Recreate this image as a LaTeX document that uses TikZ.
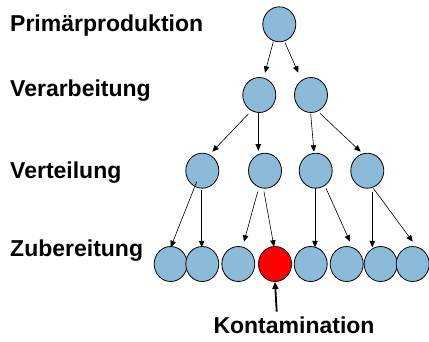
\documentclass[tikz,border=0pt]{standalone}
\usepackage{fontspec}
\setmainfont{Liberation Sans}
\usetikzlibrary{shapes.geometric,calc,arrows.meta}
\definecolor{cblue}{RGB}{139,187,217}
\begin{document}
\begin{tikzpicture}[x=1pt,y=-1pt,
  ball/.style={ellipse,draw=black,line width=0.8pt,fill=cblue,minimum width=33pt,minimum height=35pt,inner sep=0pt},
  redball/.style={ball,fill=red},
  arr/.style={-{Triangle[length=6.5pt,width=5.5pt]},line width=0.6pt},
  bigarr/.style={-{Triangle[length=7pt,width=6pt]},line width=1.8pt},
  lab/.style={anchor=base west,inner sep=0pt,font=\fontsize{23}{26}\selectfont\bfseries}]
\useasboundingbox (0,0) rectangle (429,341);
% labels
\node[lab] (lp) at (10,31.7) {Primärproduktion};
\node[lab] (lv) at (10,96.7) {Verarbeitung};
\node[lab] (lt) at (10,178) {Verteilung};
\node[lab] (lz) at (10,256.7) {Zubereitung};
% nodes
\node[ball] (t) at (279.3,24.3) {};
\node[ball] (a) at (259.3,95) {};
\node[ball] (b) at (311,95) {};
\node[ball] (c1) at (202.3,170.7) {};
\node[ball] (c2) at (265,170.7) {};
\node[ball] (c3) at (315.7,170.7) {};
\node[ball] (c4) at (367.3,170.7) {};
\node[ball] (d1) at (170.7,264) {};
\node[ball] (d2) at (202.3,264) {};
\node[ball] (d3) at (238.3,264) {};
\node[redball] (d4) at (275,264) {};
\node[ball] (d5) at (310.7,264) {};
\node[ball] (d6) at (346.7,264) {};
\node[ball] (d7) at (380.7,264) {};
\node[ball] (d8) at (412.7,264) {};
% arrows
\draw[arr] ($(t)+(-6,17.4)$) -- ($(a)+(5.7,-22.3)$);
\draw[arr] ($(t)+(5.7,18.4)$) -- ($(b)+(-12.7,-22.3)$);
\draw[arr] ($(a)+(-11,19)$) -- ($(c1)+(10,-19)$);
\draw[arr] ($(a)+(-1,18.3)$) -- ($(c2)+(-6.7,-20)$);
\draw[arr] ($(b)+(-0.3,19)$) -- ($(c3)+(-1.7,-19)$);
\draw[arr] ($(b)+(9,18.3)$) -- ($(c4)+(-6.6,-19)$);
\draw[arr] ($(c1)+(-5.6,11)$) -- ($(d1)+(0,-16.7)$);
\draw[arr] ($(c1)+(-0.6,19.3)$) -- ($(d2)+(-0.6,-16.7)$);
\draw[arr] ($(c2)+(-7.3,21)$) -- ($(d3)+(5.7,-22.3)$);
\draw[arr] ($(c2)+(-1,21)$) -- ($(d4)+(-1,-17.3)$);
\draw[arr] ($(c3)+(-0.7,17.6)$) -- ($(d5)+(4.3,-16.7)$);
\draw[arr] ($(c3)+(10.3,17.6)$) -- ($(d6)+(3.3,-22.3)$);
\draw[arr] ($(c4)+(5,21)$) -- ($(d7)+(-8.4,-16.7)$);
\draw[arr] ($(c4)+(6,17.6)$) -- ($(d8)+(0,-22.3)$);
% Kontamination
\node[anchor=base,inner sep=0pt,font=\fontsize{23}{26}\selectfont\bfseries] (k) at (294,333.3) {Kontamination};
\coordinate (ks) at (276.7,311.7);
\draw[bigarr] (ks) -- (d4.south);
\end{tikzpicture}
\end{document}
